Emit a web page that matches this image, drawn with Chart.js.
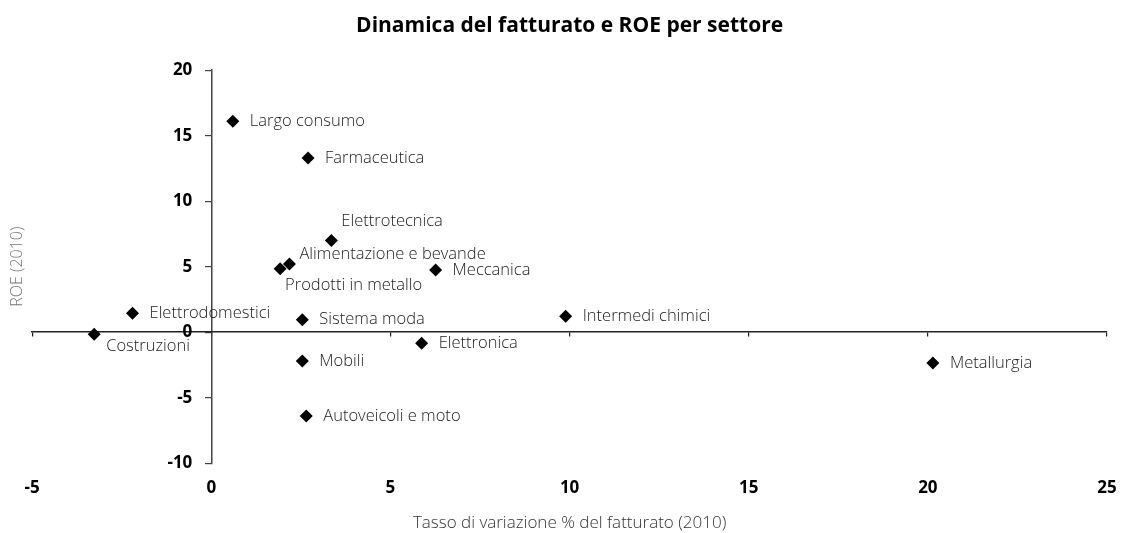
<!DOCTYPE html>
<html>
<head>
<meta charset="utf-8">
<title>Dinamica del fatturato e ROE per settore</title>
<script src="https://cdn.jsdelivr.net/npm/chart.js@4/dist/chart.umd.min.js"></script>
<style>
  html, body { margin: 0; padding: 0; background: #fff; }
  #wrap { width: 1122px; height: 533px; }
</style>
</head>
<body>
<div id="wrap"><canvas id="chart" width="1122" height="533"></canvas></div>
<script>
// settori e valori
const sectors = [
  'Largo consumo', 'Farmaceutica', 'Elettrotecnica', 'Alimentazione e bevande',
  'Prodotti in metallo', 'Meccanica', 'Elettrodomestici', 'Costruzioni',
  'Sistema moda', 'Intermedi chimici', 'Elettronica', 'Mobili',
  'Autoveicoli e moto', 'Metallurgia'
];
const salesGrowth = [0.6, 2.7, 3.35, 2.18, 1.92, 6.26, -2.2, -3.27, 2.54, 9.89, 5.87, 2.54, 2.65, 20.14];
const roe = [16.1, 13.3, 7.0, 5.2, 4.85, 4.75, 1.45, -0.15, 0.95, 1.22, -0.84, -2.2, -6.4, -2.36];
const xTicks = [-5, 0, 5, 10, 15, 20, 25];
const yTicks = [-10, -5, 0, 5, 10, 15, 20];

// dove mettere le etichette rispetto al punto (default: a destra)
const labelPlacement = {
  'Elettrotecnica': { dx: 10, dy: -19 },
  'Alimentazione e bevande': { dx: 10, dy: -10 },
  'Prodotti in metallo': { dx: 5, dy: 17 },
  'Costruzioni': { dx: 12, dy: 12 }
};

const points = sectors.map((s, i) => ({ x: salesGrowth[i], y: roe[i] }));

const lightFont = '"Open Sans", "DejaVu Sans", sans-serif';

// etichette dei settori accanto ai punti
const pointLabels = {
  id: 'pointLabels',
  afterDatasetsDraw(chart) {
    const ctx = chart.ctx;
    const meta = chart.getDatasetMeta(0);
    ctx.save();
    ctx.font = '300 16.5px ' + lightFont;
    ctx.fillStyle = '#1a1a1a';
    ctx.textAlign = 'left';
    ctx.textBaseline = 'middle';
    meta.data.forEach((pt, i) => {
      const p = labelPlacement[sectors[i]] || { dx: 17, dy: 0 };
      ctx.fillText(sectors[i], pt.x + p.dx, pt.y + p.dy);
    });
    ctx.restore();
  }
};

// etichette dell'asse y a sinistra della linea x = 0
// (con position {x: 0} Chart.js le mette sopra la linea)
const yTickLabels = {
  id: 'yTickLabels',
  afterDraw(chart) {
    const ctx = chart.ctx;
    const ys = chart.scales.y;
    const x0 = chart.scales.x.getPixelForValue(0);
    ctx.save();
    ctx.font = 'bold 17px ' + lightFont;
    ctx.fillStyle = '#000';
    ctx.textAlign = 'right';
    ctx.textBaseline = 'middle';
    ys.ticks.forEach(t => {
      ctx.fillText(String(t.value), x0 - 19, ys.getPixelForValue(t.value));
    });
    ctx.restore();
  }
};

new Chart(document.getElementById('chart'), {
  type: 'scatter',
  data: {
    datasets: [{
      label: 'Settori',
      data: points,
      pointStyle: 'rectRot',
      pointRadius: 6.5,
      pointHoverRadius: 6.5,
      backgroundColor: '#000',
      borderColor: '#000',
      borderWidth: 0
    }]
  },
  options: {
    responsive: false,
    animation: false,
    layout: { padding: { top: 0, right: 15, bottom: 0, left: 0 } },
    plugins: {
      legend: { display: false },
      tooltip: { enabled: false },
      title: {
        display: true,
        fullSize: false,
        text: 'Dinamica del fatturato e ROE per settore',
        color: '#000',
        font: { family: lightFont, size: 21, weight: 'bold' },
        padding: { top: 13, bottom: 32 }
      }
    },
    scales: {
      x: {
        type: 'linear',
        position: 'bottom',
        min: -5,
        max: 25,
        afterBuildTicks: (s) => { s.ticks = xTicks.map(v => ({ value: v })); },
        ticks: {
          color: '#000',
          padding: 0,
          font: { family: lightFont, size: 17, weight: 'bold' }
        },
        // tick trasparenti: servono solo a staccare le etichette dall'area
        grid: { display: true, drawOnChartArea: false, drawTicks: true, tickLength: 15, color: 'rgba(0,0,0,0)' },
        border: { display: false },
        title: {
          display: true,
          text: 'Tasso di variazione % del fatturato (2010)',
          color: '#333',
          font: { family: lightFont, size: 17, weight: '300' },
          padding: { top: 14, bottom: 0 }
        }
      },
      y: {
        type: 'linear',
        position: { x: 0 },
        min: -10,
        max: 20,
        afterBuildTicks: (s) => { s.ticks = yTicks.map(v => ({ value: v })); },
        ticks: { display: false },
        grid: { drawOnChartArea: false, drawTicks: true, tickLength: 6, color: '#444', lineWidth: 1.2 },
        border: { display: true, color: '#444', width: 1.5 }
      },
      xZero: {
        type: 'linear',
        position: { y: 0 },
        min: -5,
        max: 25,
        afterBuildTicks: (s) => { s.ticks = xTicks.map(v => ({ value: v })); },
        ticks: { display: false },
        grid: { drawOnChartArea: false, drawTicks: true, tickLength: 4, color: '#222', lineWidth: 1.2 },
        border: { display: true, color: '#222', width: 1.5 }
      },
      yTitle: {
        type: 'linear',
        position: 'left',
        min: -10,
        max: 20,
        ticks: { display: false },
        grid: { display: false, drawTicks: false },
        border: { display: false },
        title: {
          display: true,
          text: 'ROE (2010)',
          color: '#777',
          font: { family: lightFont, size: 16, weight: '300' },
          padding: { top: 8, bottom: 5 }
        }
      }
    }
  },
  plugins: [pointLabels, yTickLabels]
});
</script>
</body>
</html>
